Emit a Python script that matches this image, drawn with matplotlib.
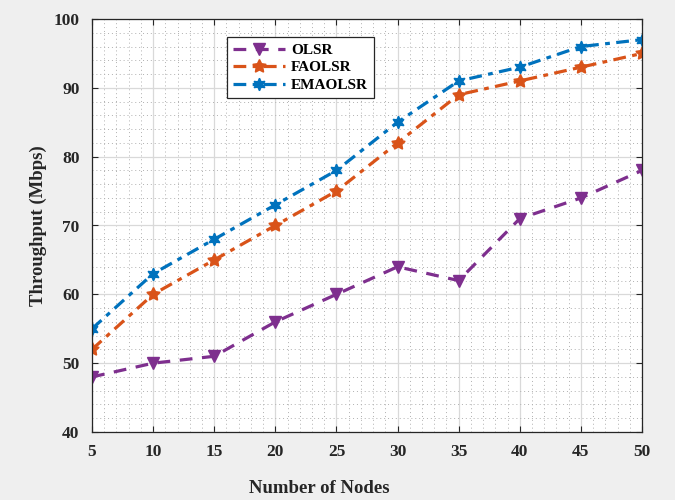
import matplotlib
matplotlib.use("Agg")
import matplotlib.pyplot as plt
from matplotlib.ticker import MultipleLocator

nodes = [5, 10, 15, 20, 25, 30, 35, 40, 45, 50]
olsr = [48, 50, 51, 56, 60, 64, 62, 71, 74, 78]
faolsr = [52, 60, 65, 70, 75, 82, 89, 91, 93, 95]
emaolsr = [55, 63, 68, 73, 78, 85, 91, 93, 96, 97]

plt.rcParams['font.family'] = ['Liberation Serif', 'DejaVu Serif']
plt.rcParams['font.weight'] = 'bold'

fig = plt.figure(figsize=(6.75, 5), dpi=100, facecolor='#efefef')
ax = fig.add_axes([92/675, 1-432/500, 550/675, 413/500])
ax.set_facecolor('white')

ax.plot(nodes, olsr, linestyle=(0, (4, 3)), color='#7E2F8E', lw=2.3, marker='v', ms=8, label='OLSR')
ax.plot(nodes, faolsr, linestyle=(0, (4, 2, 1.5, 2)), color='#D95319', lw=2.3, marker=(5, 1, 0), ms=10, label='FAOLSR')
ax.plot(nodes, emaolsr, linestyle=(0, (4, 2, 1.5, 2)), color='#0072BD', lw=2.3, marker=(6, 1, 0), ms=9, label='EMAOLSR')

ax.set_xlim(5, 50)
ax.set_ylim(40, 100)
ax.xaxis.set_major_locator(MultipleLocator(5))
ax.xaxis.set_minor_locator(MultipleLocator(1))
ax.yaxis.set_major_locator(MultipleLocator(10))
ax.yaxis.set_minor_locator(MultipleLocator(2))
ax.grid(which='major', color='#d9d9d9', lw=0.9)
ax.grid(which='minor', color='#b0b0b0', lw=0.7, linestyle=(0, (1, 3)))
ax.tick_params(which='both', direction='in', top=True, right=True, labelsize=12.5, colors='#262626')
ax.tick_params(which='minor', length=0)
ax.tick_params(which='major', length=4, pad=9)
for s in ax.spines.values():
    s.set_color('#262626')
    s.set_linewidth(0.9)
for lab in ax.get_xticklabels() + ax.get_yticklabels():
    lab.set_fontweight('bold')

ax.set_xlabel('Number of Nodes', fontsize=13.5, fontweight='bold', color='#262626', labelpad=14)
ax.xaxis.label.set_x(0.413)
ax.set_ylabel('Throughput (Mbps)', fontsize=13.5, fontweight='bold', color='#262626', labelpad=5)

leg = ax.legend(loc='upper left', bbox_to_anchor=(0.245, 0.956), borderaxespad=0, fancybox=False, framealpha=1,
                edgecolor='#262626', fontsize=11, handlelength=3.4, borderpad=0.4, labelspacing=0.25,
                handletextpad=0.4)
leg.get_frame().set_linewidth(0.9)
for t in leg.get_texts():
    t.set_fontweight('bold')

fig.savefig('out.png', dpi=100, facecolor=fig.get_facecolor())
